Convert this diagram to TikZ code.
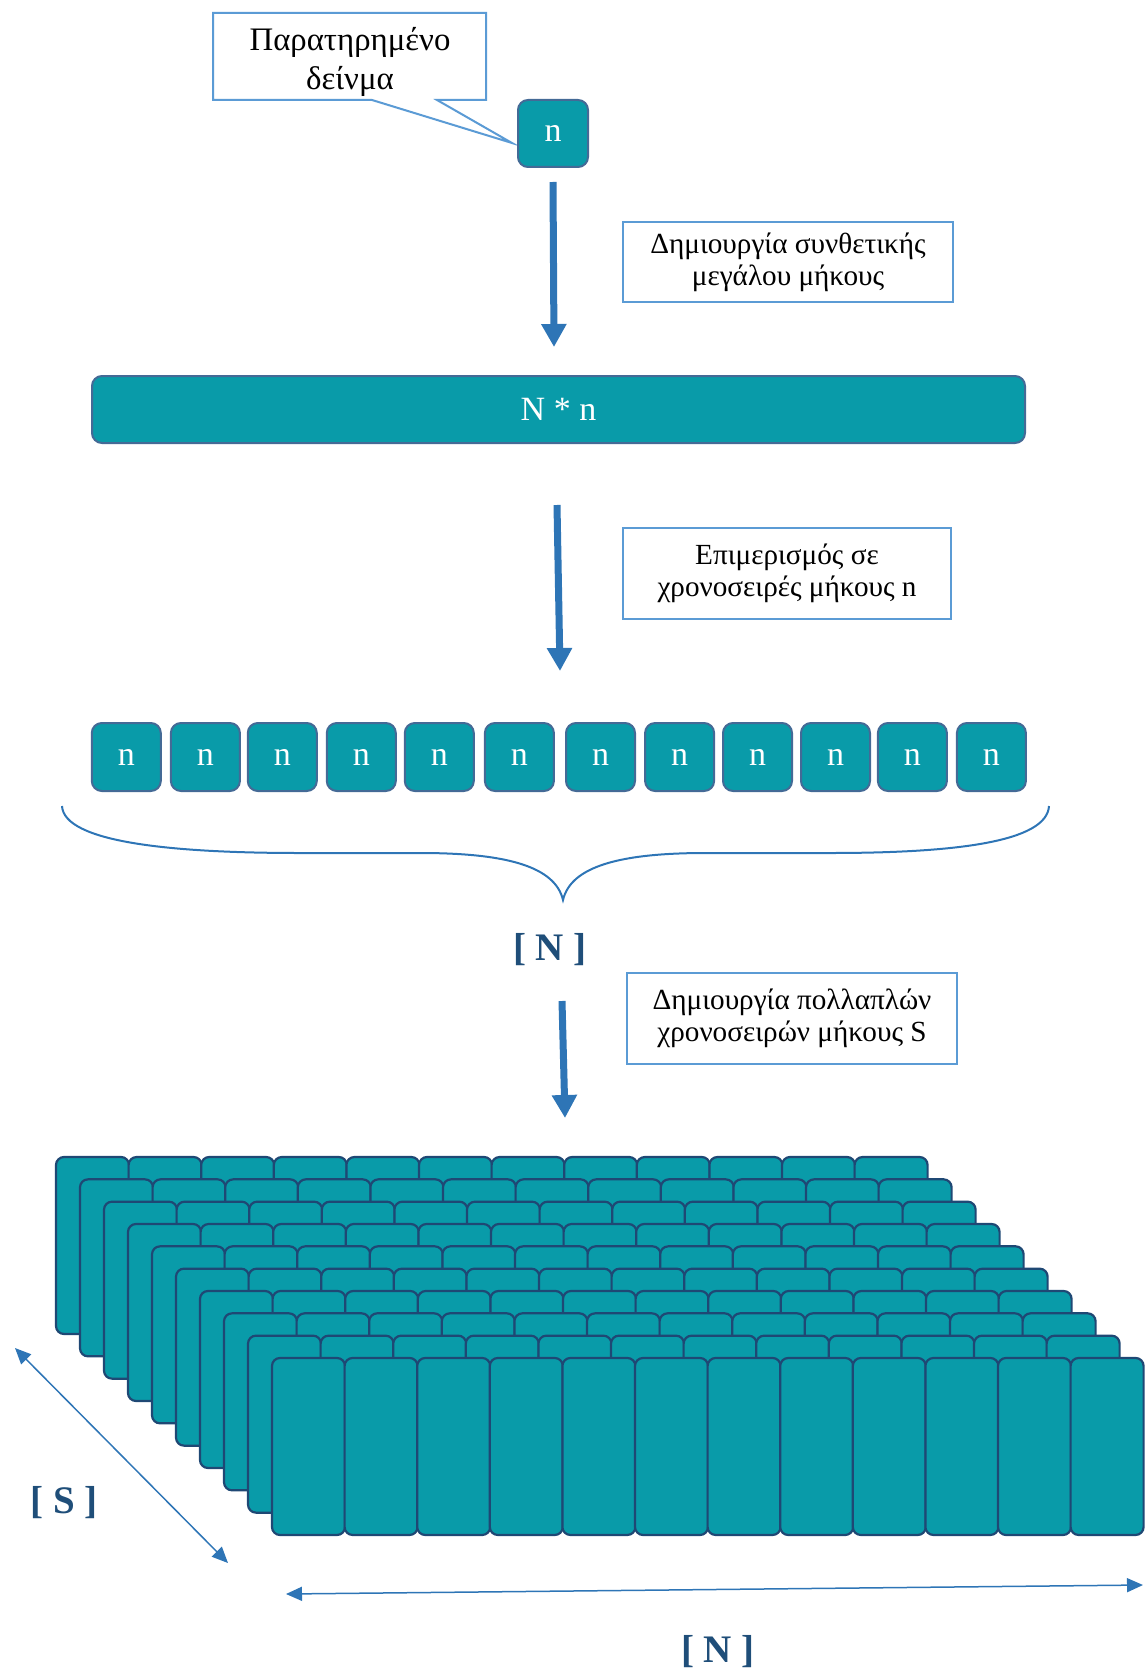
\documentclass[tikz,border=0pt]{standalone}
\usepackage{fontspec}
\setmainfont{Liberation Serif}
\usetikzlibrary{arrows.meta}
\definecolor{teal1}{RGB}{9,155,169}
\definecolor{nborder}{RGB}{68,106,150}
\definecolor{stackborder}{RGB}{31,72,116}
\definecolor{lblue}{RGB}{91,155,213}
\definecolor{arrowblue}{RGB}{46,117,182}
\definecolor{darkblue}{RGB}{31,78,121}
\begin{document}
\begin{tikzpicture}[x=0.5pt,y=-0.5pt,
  nbox/.style={draw=nborder, fill=teal1, line width=1pt, rounded corners=5pt, text=white, font=\fontsize{17}{20}\selectfont, inner sep=0pt},
  tbox/.style={draw=lblue, fill=white, line width=1pt, align=center, inner sep=0pt, font=\fontsize{14.6}{16}\selectfont},
  bigarrow/.style={draw=arrowblue, line width=3.5pt, -{Triangle[width=12pt,length=11.5pt]}},
  dimarrow/.style={draw=arrowblue, line width=0.75pt, {Triangle[width=7pt,length=8pt]}-{Triangle[width=7pt,length=8pt]}},
  dimlabel/.style={text=darkblue, font=\bfseries\fontsize{19.5}{22}\selectfont, inner sep=0pt},
  cell/.style={draw=stackborder, fill=teal1, line width=1.1pt, rounded corners=4pt}
]
\useasboundingbox (0,0) rectangle (1145,1674);

% callout
\draw[draw=lblue, fill=white, line width=1pt] (213,13) -- (486,13) -- (486,100) -- (437,100) -- (512,143) -- (372,100) -- (213,100) -- cycle;
\node[align=center, inner sep=0pt, font=\fontsize{16.4}{19.6}\selectfont] (callout) at (350,62) {Παρατηρημένο\\δείνμα};

% top sample
\node[nbox, minimum width=35pt, minimum height=33.5pt] (ntop) at (553,133.5) {n};

% text box 2
\node[tbox, minimum width=165pt, minimum height=40pt] (t1) at (788,262) {Δημιουργία συνθετικής\\μεγάλου μήκους};

% long bar
\node[nbox, minimum width=466.5pt, minimum height=33.5pt] (bar) at (558.5,409.5) {N * n};

% text box 3
\node[tbox, minimum width=164pt, minimum height=45.5pt] (t2) at (787,573.5) {Επιμερισμός σε\\χρονοσειρές μήκους n};

% row of 12
\foreach \lx [count=\j] in {91.8,170.9,247.8,326.8,404.8,484.9,566.0,645.1,723.0,801.0,877.9,956.9} {
  \node[nbox, minimum width=34.5pt, minimum height=34pt] (r\j) at (\lx+34.5,757) {n};
}

% brace
\draw[arrowblue, line width=1pt] (62,806) .. controls (64,842) and (170,853) .. (300,853) -- (420,853) .. controls (505,853) and (555,866) .. (563,900) .. controls (571,866) and (621,853) .. (706,853) -- (830,853) .. controls (955,853) and (1047,842) .. (1049,806);

\node[dimlabel] (lblN1) at (550,950) {[ N ]};

% text box 4
\node[tbox, minimum width=165pt, minimum height=45.5pt] (t3) at (792,1018.5) {Δημιουργία πολλαπλών\\χρονοσειρών μήκους S};

% arrows
\coordinate (a1s) at (553,182); \coordinate (a1e) at (554,347);
\coordinate (a2s) at (557,505); \coordinate (a2e) at (560,671);
\coordinate (a3s) at (562,1001); \coordinate (a3e) at (565,1118);
\draw[bigarrow] (a1s) -- (a1e);
\draw[bigarrow] (a2s) -- (a2e);
\draw[bigarrow] (a3s) -- (a3e);

% stack
\foreach \k in {0,...,9} {
  \foreach \i in {0,...,11} {
    \pgfmathsetmacro\xx{56+24*\k+72.6*\i}
    \pgfmathsetmacro\yy{1157+22.33*\k}
    \draw[cell] (\xx,\yy) rectangle ++(73,177);
  }
}

% dimension arrows
\coordinate (sA) at (15,1348); \coordinate (sB) at (228,1563);
\draw[dimarrow] (sA) -- (sB);
\node[dimlabel] (lblS) at (64,1503) {[ S ]};
\coordinate (nA) at (286,1594); \coordinate (nB) at (1143,1585);
\draw[dimarrow] (nA) -- (nB);
\node[dimlabel] (lblN2) at (718,1652) {[ N ]};
\end{tikzpicture}
\end{document}
